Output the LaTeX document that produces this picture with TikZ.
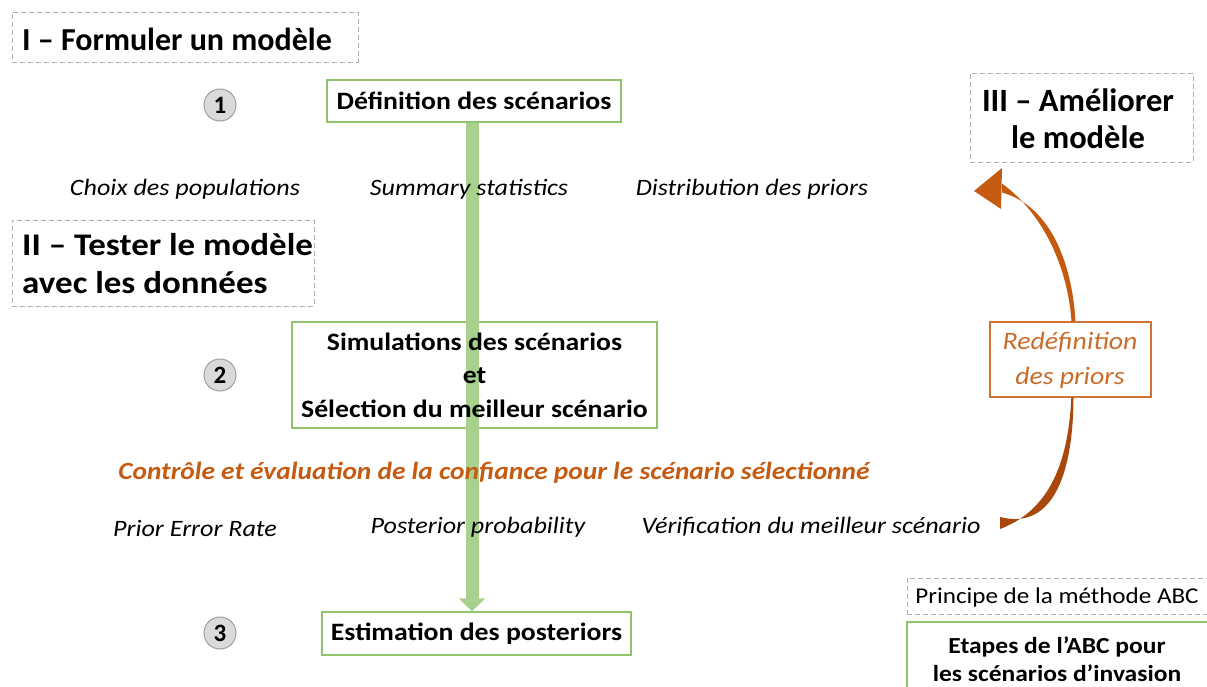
\documentclass[tikz,border=0pt]{standalone}
\usepackage{fontspec}
\setmainfont{Carlito}
\newfontfamily\wide{Carlito}[FakeStretch=1.11]
\usetikzlibrary{arrows.meta}
\definecolor{gline}{HTML}{A9D18E}
\definecolor{gbox}{HTML}{8FC46C}
\definecolor{dgray}{HTML}{B0B0B0}
\definecolor{orng}{HTML}{C55A11}
\definecolor{orngd}{HTML}{A8480C}
\definecolor{cfill}{HTML}{DADADA}
\begin{document}
\begin{tikzpicture}[x=1pt,y=-1pt,
  title/.style={draw=dgray, dash pattern=on 5pt off 3pt, line width=0.9pt, inner sep=0pt},
  ttext/.style={font=\fontsize{32}{38}\selectfont\bfseries, inner sep=0pt},
  gstep/.style={draw=gbox, line width=1.3pt, inner sep=0pt},
  btext/.style={font=\wide\fontsize{25}{34}\selectfont\bfseries, inner sep=0pt, align=center},
  num/.style={circle, draw=dgray!90!black, fill=cfill, line width=1pt, minimum size=32pt, inner sep=0pt, font=\fontsize{25}{26}\selectfont\bfseries},
  lab/.style={font=\wide\fontsize{23.5}{26}\selectfont\itshape, inner sep=0pt},
]
\useasboundingbox (0,0) rectangle (1207,686);

% section titles
\node[title, minimum width=346pt, minimum height=50pt] (t1) at (185,37) {};
\node[ttext, anchor=west] (t1txt) at (22,39) {I – Formuler un modèle};
\node[title, minimum width=302pt, minimum height=86pt] (t2) at (163,263) {};
\node[ttext, anchor=west, align=left, font=\wide\fontsize{31.5}{38}\selectfont\bfseries] (t2txt) at (22,264) {II – Tester le modèle\\avec les données};
\node[title, minimum width=223pt, minimum height=89pt] (t3) at (1081.5,117.5) {};
\node[ttext, align=center, font=\fontsize{32.5}{37}\selectfont\bfseries] (t3txt) at (1078,119) {III – Améliorer\\le modèle};

% green flow
\node[gstep, minimum width=294pt, minimum height=42pt] (def) at (474,101) {};
\node[gstep, minimum width=365pt, minimum height=106pt] (sim) at (474.5,375) {};
\node[gstep, minimum width=309pt, minimum height=43pt] (est) at (476.5,633.5) {};
\draw[gline, line width=13pt, -{Triangle[width=26pt,length=13pt]}] ([xshift=-2pt]def.south) -- ([xshift=-4.5pt]est.north);

\node[btext] (deftxt) at (def) {Définition des scénarios};
\node[btext, font=\wide\fontsize{25}{33.5}\selectfont\bfseries] (simtxt) at (sim) {Simulations des scénarios\\et\\Sélection du meilleur scénario};
\node[btext] (esttxt) at (est) {Estimation des posteriors};

% numbers
\node[num] (n1) at (220,105) {1};
\node[num] (n2) at (220,375) {2};
\node[num] (n3) at (220,633) {3};

% italic labels
\node[lab] (l1) at (185,189) {Choix des populations};
\node[lab] (l2) at (469,189) {Summary statistics};
\node[lab] (l3) at (752,189) {Distribution des priors};

\node[font=\wide\fontsize{24.7}{28}\selectfont\bfseries\itshape, text=orng, inner sep=0pt] (ctrl) at (494,473) {Contrôle et évaluation de la confiance pour le scénario sélectionné};

\node[lab] (p1) at (195,528) {Prior Error Rate};
\node[lab] (p2) at (478,527) {Posterior probability};
\node[lab] (p3) at (811,527) {Vérification du meilleur scénario};

% redefinition
\node[draw=orng!85!white, line width=1.1pt, minimum width=161pt, minimum height=75pt, inner sep=0pt] (redef) at (1070.5,359.5) {};
\node[font=\wide\fontsize{25}{35}\selectfont\itshape, text=orng!90!white, align=center, inner sep=0pt] (redeftxt) at (1070,360) {Redéfinition\\des priors};

\coordinate (cstart) at (1000,523);
\coordinate (tip) at (974,191);
\coordinate (hb) at (1002,188);
\fill[orngd] ([yshift=-6pt]cstart) .. controls (1045,512) and (1068,470) .. ([xshift=0.8pt]redef.south) -- ([xshift=3pt]redef.south) .. controls (1073,480) and (1050,530) .. ([yshift=6pt]cstart) -- cycle;
\fill[orng] ([xshift=1pt]redef.north) .. controls (1068,270) and (1045,215) .. ([yshift=4.5pt]hb) -- ([yshift=-4.5pt]hb) .. controls (1050,206) and (1072,262) .. ([xshift=5pt]redef.north) -- cycle;
\fill[orng] (tip) -- (1002,168) -- (1001,209) -- cycle;

% legend
\node[draw=dgray, dash pattern=on 5pt off 3pt, line width=0.9pt, minimum width=310pt, minimum height=36pt, inner sep=0pt] (leg1) at (1062,596) {};
\node[font=\wide\fontsize{22.6}{24}\selectfont, inner sep=0pt] (leg1txt) at (1057,597) {Principe de la méthode ABC};
\node[draw=gbox, line width=1.3pt, minimum width=310pt, minimum height=70pt, inner sep=0pt] (leg2) at (1062,657) {};
\node[font=\wide\fontsize{23}{28}\selectfont\bfseries, align=center, inner sep=0pt] (leg2txt) at (1057,659) {Etapes de l’ABC pour\\les scénarios d’invasion};
\end{tikzpicture}
\end{document}
